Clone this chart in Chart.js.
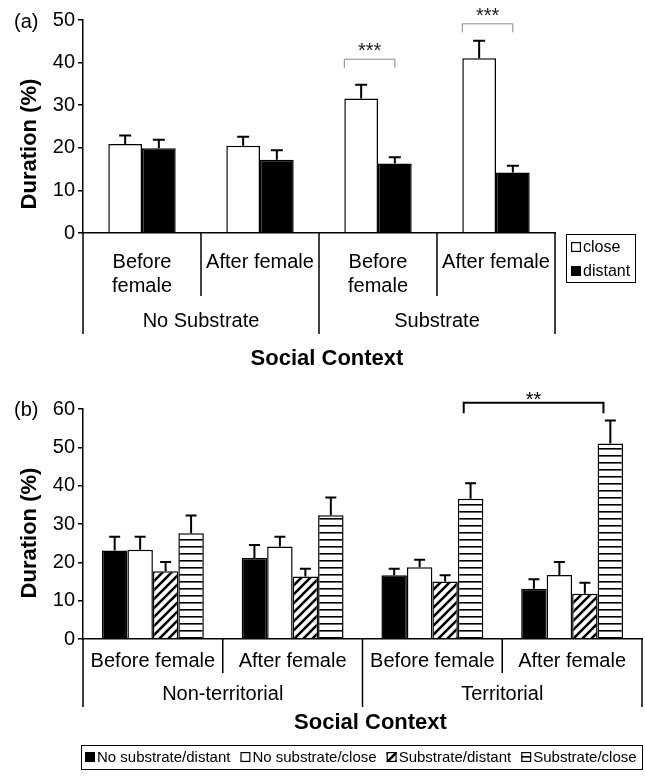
<!DOCTYPE html>
<html>
<head>
<meta charset="utf-8">
<script src="https://cdn.jsdelivr.net/npm/chart.js@4.4.1/dist/chart.umd.min.js"></script>
<style>
  html, body { margin: 0; padding: 0; background: #fff; }
  #wrap { position: relative; width: 645px; height: 776px; }
  .panel { position: absolute; left: 0; width: 645px; }
  #panelA { top: 0; height: 375px; }
  #panelB { top: 375px; height: 401px; }
</style>
</head>
<body>
<div id="wrap">
  <div class="panel" id="panelA"><canvas id="chartA"></canvas></div>
  <div class="panel" id="panelB"><canvas id="chartB"></canvas></div>
</div>
<script>
// panel (a): duration close / distant
const stagesA = ['Before female', 'After female', 'Before female', 'After female'];
const groupsA = ['No Substrate', 'Substrate'];
const closeA = [20.9, 20.5, 31.6, 41.0];
const closeErrA = [2.0, 2.1, 3.2, 4.1];
const distantA = [19.9, 17.2, 16.3, 14.2];
const distantErrA = [2.0, 2.2, 1.5, 1.6];
const ticksA = [0, 10, 20, 30, 40, 50];
const sigA = [
  { fromCat: 2, fromSet: 0, toCat: 2, toSet: 1, y: 40.8, label: '***' },
  { fromCat: 3, fromSet: 0, toCat: 3, toSet: 1, y: 49.1, label: '***' }
];

// panel (b): territorial status x substrate
const stagesB = ['Before female', 'After female', 'Before female', 'After female'];
const groupsB = ['Non-territorial', 'Territorial'];
const noSubDistant = [23.1, 21.1, 16.6, 13.1];
const noSubDistantErr = [3.6, 3.4, 1.7, 2.5];
const noSubClose = [23.3, 24.1, 18.7, 16.7];
const noSubCloseErr = [3.4, 2.6, 2.0, 3.4];
const subDistant = [17.7, 16.3, 15.0, 11.8];
const subDistantErr = [2.4, 2.0, 1.6, 2.9];
const subClose = [27.6, 32.3, 36.6, 51.0];
const subCloseErr = [4.6, 4.6, 4.0, 6.0];
const ticksB = [0, 10, 20, 30, 40, 50, 60];
const sigB = [
  { fromCat: 2, fromSet: 3, toCat: 3, toSet: 3, y: 61.6, label: '**' }
];

const FONT = "'Liberation Sans', Arial, sans-serif";
Chart.defaults.font.family = FONT;
Chart.defaults.color = '#000';

function hatchPattern() {
  const c = document.createElement('canvas');
  c.width = 9; c.height = 9;
  const g = c.getContext('2d');
  g.fillStyle = '#fff'; g.fillRect(0, 0, 9, 9);
  g.strokeStyle = '#000'; g.lineWidth = 2.6;
  g.beginPath();
  g.moveTo(-1, 10); g.lineTo(10, -1);
  g.moveTo(-5.5, 5.5); g.lineTo(5.5, -5.5);
  g.moveTo(3.5, 14.5); g.lineTo(14.5, 3.5);
  g.stroke();
  return g.createPattern(c, 'repeat');
}

function stripePattern() {
  const c = document.createElement('canvas');
  c.width = 4; c.height = 7;
  const g = c.getContext('2d');
  g.fillStyle = '#fff'; g.fillRect(0, 0, 4, 7);
  g.fillStyle = '#000'; g.fillRect(0, 3, 4, 1.6);
  return g.createPattern(c, 'repeat');
}

function drawLegend(chart, L) {
  const ctx = chart.ctx;
  ctx.save();
  ctx.font = L.font;
  ctx.textAlign = 'left';
  ctx.textBaseline = 'middle';
  ctx.lineWidth = 1;
  ctx.strokeStyle = '#000';
  ctx.strokeRect(L.x + 0.5, L.y + 0.5, L.w, L.h);
  let cx = L.x + L.padX;
  chart.data.datasets.forEach((ds, i) => {
    const cy = L.row ? L.y + L.h / 2 : L.y + L.padY + i * L.rowH;
    ctx.fillStyle = ds.backgroundColor;
    ctx.fillRect(cx, cy - L.mark / 2, L.mark, L.mark);
    ctx.lineWidth = 1.2;
    ctx.strokeRect(cx + 0.6, cy - L.mark / 2 + 0.6, L.mark - 1.2, L.mark - 1.2);
    ctx.fillStyle = '#000';
    ctx.fillText(ds.label, cx + L.mark + 2, cy + 1);
    if (L.row) cx += L.mark + 2 + ctx.measureText(ds.label).width + L.gap;
  });
  ctx.restore();
}

function makeDecor(cfg) {
  return {
    id: 'decor',
    afterDatasetsDraw(chart) {
      const ctx = chart.ctx, ys = chart.scales.y;
      ctx.save();
      ctx.strokeStyle = '#000';
      ctx.lineWidth = 2;
      chart.data.datasets.forEach((ds, i) => {
        chart.getDatasetMeta(i).data.forEach((bar, j) => {
          const top = ys.getPixelForValue(ds.data[j] + ds.errorBars[j]);
          ctx.beginPath();
          ctx.moveTo(bar.x, bar.y);
          ctx.lineTo(bar.x, top);
          ctx.moveTo(bar.x - cfg.cap / 2, top);
          ctx.lineTo(bar.x + cfg.cap / 2, top);
          ctx.stroke();
        });
      });
      ctx.restore();
    },
    afterDraw(chart) {
      const ctx = chart.ctx, area = chart.chartArea;
      const xs = chart.scales.x, ys = chart.scales.y;
      const labels = chart.data.labels;
      const n = labels.length, per = n / cfg.groups.length;
      const centre = i => xs.getPixelForValue(i);
      const edge = i => i === 0 ? area.left : i === n ? area.right : (centre(i - 1) + centre(i)) / 2;

      ctx.save();
      // category axis: separators + two label levels
      ctx.strokeStyle = '#000';
      ctx.lineWidth = 1.5;
      for (let i = 0; i <= n; i++) {
        const len = i % per === 0 ? cfg.longSep : cfg.shortSep;
        ctx.beginPath();
        ctx.moveTo(edge(i), area.bottom);
        ctx.lineTo(edge(i), area.bottom + len);
        ctx.stroke();
      }
      ctx.fillStyle = '#000';
      ctx.textAlign = 'center';
      ctx.textBaseline = 'middle';
      ctx.font = '20px ' + FONT;
      labels.forEach((lab, i) => {
        const room = edge(i + 1) - edge(i) - 8;
        const lines = ctx.measureText(lab).width > room ? lab.split(' ') : [lab];
        lines.forEach((ln, k) => ctx.fillText(ln, centre(i), area.bottom + cfg.stageY + k * 24));
      });
      cfg.groups.forEach((g, k) => {
        ctx.fillText(g, (edge(k * per) + edge((k + 1) * per)) / 2, area.bottom + cfg.groupY);
      });

      // axis titles and panel tag
      ctx.font = 'bold 22px ' + FONT;
      ctx.fillText('Social Context', (area.left + area.right) / 2 + 8, cfg.xTitleY);
      ctx.save();
      ctx.translate(cfg.yTitleX, cfg.yTitleY);
      ctx.rotate(-Math.PI / 2);
      ctx.fillText('Duration (%)', 0, 0);
      ctx.restore();
      ctx.font = '20px ' + FONT;
      ctx.textAlign = 'left';
      ctx.fillText(cfg.tag, 14, cfg.tagY);

      // significance brackets
      const st = cfg.sigStyle;
      cfg.sig.forEach(s => {
        const a = chart.getDatasetMeta(s.fromSet).data[s.fromCat];
        const b = chart.getDatasetMeta(s.toSet).data[s.toCat];
        const x1 = a.x + a.width * st.fromShift, x2 = b.x + b.width * st.toShift;
        const yy = ys.getPixelForValue(s.y);
        ctx.strokeStyle = st.color;
        ctx.lineWidth = st.width;
        ctx.beginPath();
        ctx.moveTo(x1, yy + st.drop);
        ctx.lineTo(x1, yy);
        ctx.lineTo(x2, yy);
        ctx.lineTo(x2, yy + st.drop);
        ctx.stroke();
        ctx.fillStyle = st.starColor;
        ctx.font = '20px ' + FONT;
        ctx.textAlign = 'center';
        ctx.textBaseline = 'alphabetic';
        ctx.fillText(s.label, (x1 + x2) / 2, yy - st.gap + 11);
      });
      ctx.restore();

      drawLegend(chart, cfg.legend);
    }
  };
}

function yAxis(max, ticks) {
  return {
    min: 0, max: max,
    afterBuildTicks: s => { s.ticks = ticks.map(v => ({ value: v })); },
    afterFit: s => { s.width = 83; },
    ticks: { font: { size: 20 }, color: '#000', padding: 3 },
    grid: { drawOnChartArea: false, tickLength: 5, color: '#000', lineWidth: 1.5 },
    border: { color: '#000', width: 1.5, z: 1 }
  };
}

function xAxis(height) {
  return {
    afterFit: s => { s.height = height; },
    ticks: { display: false },
    grid: { display: false },
    border: { color: '#000', width: 1.5, z: 1 }
  };
}

new Chart(document.getElementById('chartA'), {
  type: 'bar',
  data: {
    labels: stagesA,
    datasets: [
      { label: 'close', data: closeA, errorBars: closeErrA, backgroundColor: '#fff', borderColor: '#000', borderWidth: 1.5 },
      { label: 'distant', data: distantA, errorBars: distantErrA, backgroundColor: '#000', borderColor: '#000', borderWidth: 1.5 }
    ]
  },
  options: {
    responsive: true,
    maintainAspectRatio: false,
    animation: false,
    devicePixelRatio: 1,
    datasets: { bar: { barPercentage: 1, categoryPercentage: 0.571 } },
    layout: { padding: { top: 20, right: 90, bottom: 0, left: 0 } },
    scales: { x: xAxis(142), y: yAxis(50, ticksA) },
    plugins: { legend: { display: false }, tooltip: { enabled: false } }
  },
  plugins: [makeDecor({
    tag: '(a)', tagY: 22, groups: groupsA, cap: 12,
    stageY: 29, groupY: 88, shortSep: 63, longSep: 101,
    xTitleY: 359, yTitleX: 30, yTitleY: 144,
    sig: sigA,
    sigStyle: { fromShift: -0.5, toShift: 0, drop: 8.5, gap: 13, color: '#888', width: 1, starColor: '#222' },
    legend: { x: 566, y: 234, w: 69, h: 48, padX: 5, padY: 13, rowH: 24, mark: 10, font: '16px ' + FONT, row: false }
  })]
});

new Chart(document.getElementById('chartB'), {
  type: 'bar',
  data: {
    labels: stagesB,
    datasets: [
      { label: 'No substrate/distant', data: noSubDistant, errorBars: noSubDistantErr, backgroundColor: '#000', borderColor: '#000', borderWidth: 1.5 },
      { label: 'No substrate/close', data: noSubClose, errorBars: noSubCloseErr, backgroundColor: '#fff', borderColor: '#000', borderWidth: 1.5 },
      { label: 'Substrate/distant', data: subDistant, errorBars: subDistantErr, backgroundColor: hatchPattern(), borderColor: '#000', borderWidth: 1.5 },
      { label: 'Substrate/close', data: subClose, errorBars: subCloseErr, backgroundColor: stripePattern(), borderColor: '#000', borderWidth: 1.5 }
    ]
  },
  options: {
    responsive: true,
    maintainAspectRatio: false,
    animation: false,
    devicePixelRatio: 1,
    datasets: { bar: { barPercentage: 1, categoryPercentage: 0.729 } },
    layout: { padding: { top: 34, right: 3, bottom: 0, left: 0 } },
    scales: { x: xAxis(137), y: yAxis(60, ticksB) },
    plugins: { legend: { display: false }, tooltip: { enabled: false } }
  },
  plugins: [makeDecor({
    tag: '(b)', tagY: 35, groups: groupsB, cap: 11,
    stageY: 22.5, groupY: 55, shortSep: 34, longSep: 68,
    xTitleY: 348, yTitleX: 30, yTitleY: 158,
    sig: sigB,
    sigStyle: { fromShift: -0.27, toShift: -0.27, drop: 10.5, gap: 7.5, color: '#000', width: 2, starColor: '#000' },
    legend: { x: 81, y: 370, w: 561, h: 24, padX: 4, mark: 10, gap: 10, font: '15px ' + FONT, row: true }
  })]
});
</script>
</body>
</html>
